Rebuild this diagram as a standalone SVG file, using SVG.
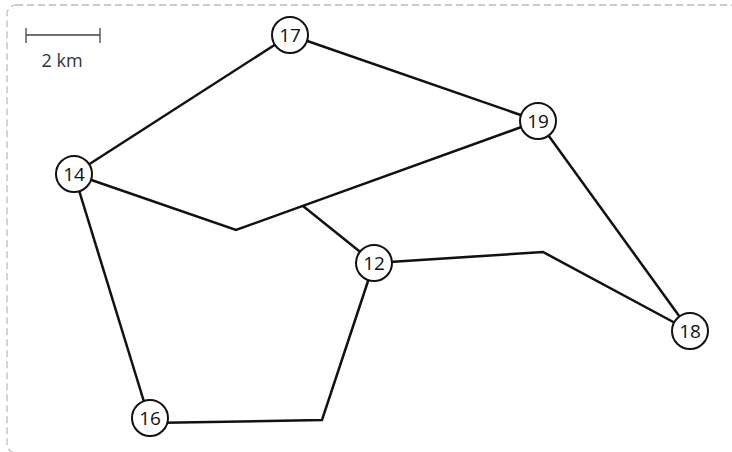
<svg xmlns="http://www.w3.org/2000/svg" width="732" height="452" viewBox="0 0 732 452">
<style>
.frame{fill:none;stroke:#bdbdbd;stroke-width:1.3;stroke-dasharray:7 4}
.edge{fill:none;stroke:#111;stroke-width:2.5;stroke-linejoin:miter}
.node circle{fill:#fff;stroke:#111;stroke-width:2}
.node text{font-family:"Open Sans","DejaVu Sans",sans-serif;font-size:19px;fill:#111;text-anchor:middle;dominant-baseline:central}
.scale{stroke:#444;stroke-width:1.3;fill:none}
.scaletext{font-family:"Open Sans","DejaVu Sans",sans-serif;font-size:18px;fill:#333;text-anchor:middle}
</style>
<rect class="frame" x="7" y="5" width="745" height="448" rx="9"/>
<g id="scale">
<path class="scale" d="M26 35H100M26 28V43M100 28V43"/>
<text class="scaletext" x="62" y="67">2 km</text>
</g>
<g id="connectors">
<path class="edge" d="M290 35L538 121"/>
<path class="edge" d="M290 35L74 174"/>
<path class="edge" d="M74 174L236 230L538 121"/>
<path class="edge" d="M303 206L374 263"/>
<path class="edge" d="M374 263L543 252L690 331"/>
<path class="edge" d="M538 121L690 331"/>
<path class="edge" d="M74 174L149 418"/>
<path class="edge" d="M149 423L322 420L374 263"/>
</g>
<g id="n17" class="node"><circle cx="290" cy="35" r="18"/><text x="290" y="35">17</text></g>
<g id="n19" class="node"><circle cx="538" cy="121" r="18"/><text x="538" y="121">19</text></g>
<g id="n14" class="node"><circle cx="74" cy="174" r="18"/><text x="74" y="174">14</text></g>
<g id="n12" class="node"><circle cx="374" cy="263" r="18"/><text x="374" y="263">12</text></g>
<g id="n18" class="node"><circle cx="690" cy="331" r="18"/><text x="690" y="331">18</text></g>
<g id="n16" class="node"><circle cx="150" cy="418" r="18"/><text x="150" y="418">16</text></g>
</svg>
